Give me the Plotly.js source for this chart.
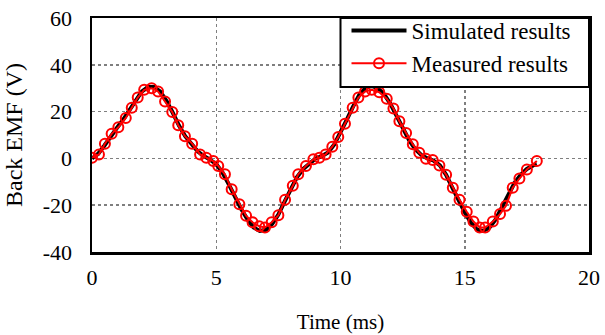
<!DOCTYPE html>
<html><head><meta charset="utf-8">
<script src="https://cdn.plot.ly/plotly-3.0.1.min.js"></script>
<style>html,body{margin:0;padding:0;background:#fff;}</style>
</head><body>
<div id="chart" style="width:605px;height:335px;"></div>
<script>
const simTime = [0,0.25,0.5,0.75,1.0,1.25,1.5,1.75,2.0,2.25,2.5,2.75,3.0,3.25,3.5,3.75,4.0,4.25,4.5,4.75,5.0,5.25,5.5,5.75,6.0,6.25,6.5,6.75,7.0,7.25,7.5,7.75,8.0,8.25,8.5,8.75,9.0,9.25,9.5,9.75,10.0,10.25,10.5,10.75,11.0,11.25,11.5,11.75,12.0,12.25,12.5,12.75,13.0,13.25,13.5,13.75,14.0,14.25,14.5,14.75,15.0,15.25,15.5,15.75,16.0,16.25,16.5,16.75,17.0,17.25,17.5,17.75,17.9];
const simEMF = [0,2,5.5,9.5,13,16.5,20.5,25,28.5,30.5,30.5,28.5,24.5,19.5,14,9.5,6,3,1,-0.5,-2.5,-6,-11,-16.5,-21.5,-26,-29.5,-31,-30.5,-28,-24,-18.5,-13,-8,-4.5,-2,0,1,2.5,6,11,16.5,22,27,30,31,30,27.5,23.5,18.5,13,8,4,1.5,0,-1,-3,-7,-12.5,-18,-23,-27.5,-30.5,-31,-29.5,-26,-21,-15.5,-10.5,-7,-4.5,-3,-2.5];
const measTime = [0,0.28,0.52,0.79,1.06,1.36,1.6,1.84,2.1,2.4,2.66,2.94,3.23,3.47,3.74,4.03,4.35,4.6,4.88,5.08,5.35,5.62,5.93,6.2,6.46,6.73,6.96,7.23,7.5,7.77,8.08,8.3,8.61,8.91,9.15,9.4,9.67,9.91,10.18,10.49,10.72,10.99,11.26,11.56,11.86,12.13,12.37,12.64,12.91,13.17,13.44,13.71,13.98,14.25,14.52,14.79,15.08,15.35,15.6,15.82,16.13,16.42,16.66,16.93,17.2,17.5,17.9];
const measEMF = [0.3,1.7,6.3,10.5,13.3,17.3,21.6,26,29.3,30,28.6,24.3,19.8,14.2,9.5,6.3,1.7,0.3,-1.1,-3.2,-6.8,-13.2,-19.6,-24.5,-27.3,-29,-29.5,-27.3,-24.3,-17.7,-11.7,-6.8,-3.2,-0.4,0.3,1.7,5,9.1,14.8,21.6,26,28.6,29.3,28.3,25.5,21.3,15.9,10.9,6,2.4,-0.2,-0.7,-3,-7,-12.5,-17.7,-22.8,-27,-29.5,-29.5,-27,-23.8,-20.2,-12.5,-8.6,-4.7,-1.1];
const xTicks = [0,5,10,15,20];
const yTicks = [-40,-20,0,20,40,60];

const fam = '"Liberation Serif", "Times New Roman", serif';
const tickFont = {family: fam, color: '#000', size: 22};
const legFont = {family: fam, color: '#000', size: 23};
const traces = [
  {x: simTime, y: simEMF, name: 'Simulated results', mode: 'lines', type: 'scatter',
   line: {color: '#000', width: 4}},
  {x: measTime, y: measEMF, name: 'Measured results', mode: 'lines+markers', type: 'scatter',
   line: {color: '#ff0000', width: 2},
   marker: {symbol: 'circle-open', size: 10, color: '#ff0000', line: {width: 2, color: '#ff0000'}}}
];
const axisCommon = {
  showline: true, linecolor: '#000', linewidth: 2.5, mirror: true,
  showgrid: true, gridcolor: '#7f7f7f', griddash: 'dot', gridwidth: 1.5,
  zeroline: false, ticks: '', tickfont: tickFont, automargin: false
};
const plotH = 335 - 18 - 83;
const plotW = 605 - 92 - 16;
const layout = {
  width: 605, height: 335,
  margin: {l: 92, r: 16, t: 18, b: 83, autoexpand: false},
  paper_bgcolor: '#fff', plot_bgcolor: '#fff',
  font: tickFont,
  showlegend: true,
  shapes: [{type: 'rect', xref: 'x', yref: 'paper', x0: 10, x1: 20, y0: 1 - 69 / plotH, y1: 1,
            fillcolor: '#fff', line: {color: '#000', width: 2}, layer: 'above'}],
  legend: {x: 0.5 + 6 / plotW, y: 1 + 9 / plotH, xanchor: 'left', yanchor: 'top', bgcolor: 'rgba(0,0,0,0)',
           borderwidth: 0, font: legFont, itemwidth: 55, tracegroupgap: 0},
  xaxis: Object.assign({}, axisCommon, {range: [0, 20], tickvals: xTicks, ticktext: xTicks.map(String),
    ticklabelstandoff: 4,
    title: {text: 'Time (ms)', font: {family: fam, color: '#000', size: 21}, standoff: 26}}),
  yaxis: Object.assign({}, axisCommon, {range: [-40, 60], tickvals: yTicks, ticktext: yTicks.map(String),
    ticklabelstandoff: 13,
    title: {text: 'Back EMF (V)', font: {family: fam, color: '#000', size: 24}, standoff: 14}})
};
Plotly.newPlot('chart', traces, layout, {displayModeBar: false, staticPlot: true});
</script>
</body></html>
